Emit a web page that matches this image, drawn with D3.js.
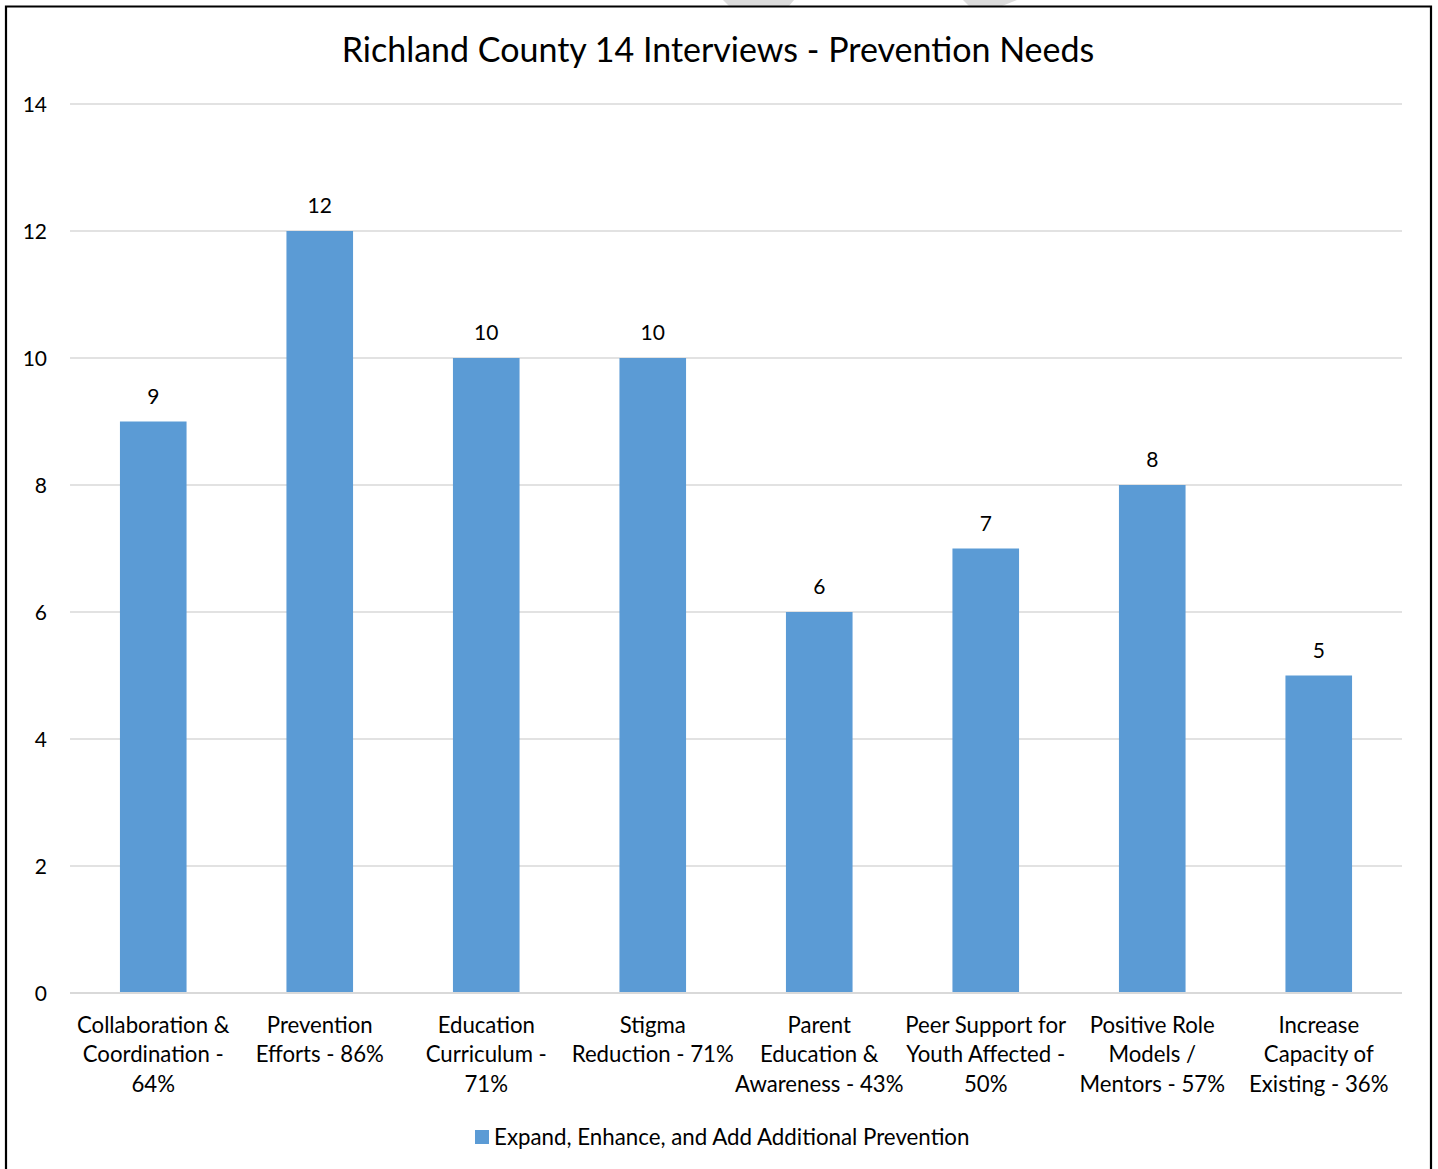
<!DOCTYPE html>
<html>
<head>
<meta charset="utf-8">
<script src="https://cdn.jsdelivr.net/npm/d3@7"></script>
<style>
  html, body { margin: 0; padding: 0; background: #fff; }
  svg { display: block; }
  text { font-family: Lato, "Open Sans", sans-serif; fill: #000; }
</style>
</head>
<body>
<svg id="chart" width="1438" height="1169"></svg>
<script>
const title = "Richland County 14 Interviews - Prevention Needs";
const categories = [
  ["Collaboration &", "Coordination -", "64%"],
  ["Prevention", "Efforts - 86%"],
  ["Education", "Curriculum -", "71%"],
  ["Stigma", "Reduction - 71%"],
  ["Parent", "Education &", "Awareness - 43%"],
  ["Peer Support for", "Youth Affected -", "50%"],
  ["Positive Role", "Models /", "Mentors - 57%"],
  ["Increase", "Capacity of", "Existing - 36%"]
];
const values = [9, 12, 10, 10, 6, 7, 8, 5];
const yTicks = [0, 2, 4, 6, 8, 10, 12, 14];
const seriesName = "Expand, Enhance, and Add Additional Prevention";
const barColor = "#5B9BD5";

(function () {
const svg = d3.select("#chart");

// watermark fragments above the frame
svg.append("polygon").attr("points", "723,0 794,0 789,6 729,6").attr("fill", "#dcdcdc");
svg.append("polygon").attr("points", "963,0 1017,0 1002,6 969,6").attr("fill", "#dcdcdc");

// frame
svg.append("path")
  .attr("d", "M6,1169 V6.5 H1431 V1169")
  .attr("fill", "none").attr("stroke", "#000").attr("stroke-width", 2.2);

const pLeft = 70, pRight = 1402, pTop = 104, pBottom = 993;
const x = d3.scaleBand().domain(d3.range(values.length)).range([pLeft, pRight]).paddingInner(0.6).paddingOuter(0.3);
const y = d3.scaleLinear().domain([0, 14]).range([pBottom, pTop]);

// gridlines
svg.append("g").selectAll("line").data(yTicks).join("line")
  .attr("x1", pLeft).attr("x2", pRight)
  .attr("y1", d => y(d)).attr("y2", d => y(d))
  .attr("stroke", "#d9d9d9").attr("stroke-width", 1.3);

// y axis labels
const yAxis = d3.axisLeft(y).tickValues(yTicks).tickSize(0).tickPadding(0);
const ga = svg.append("g").attr("transform", `translate(47,0)`).call(yAxis);
ga.select(".domain").remove();
ga.selectAll("text").attr("font-size", 21).attr("font-family", "Lato, sans-serif").attr("fill", "#000").attr("dy", "0.35em");

// bars
svg.append("g").selectAll("rect").data(values).join("rect")
  .attr("x", (d, i) => x(i)).attr("width", x.bandwidth())
  .attr("y", d => y(d)).attr("height", d => y(0) - y(d))
  .attr("fill", barColor);

// baseline
svg.append("line").attr("x1", pLeft).attr("x2", pRight).attr("y1", y(0)).attr("y2", y(0))
  .attr("stroke", "#d9d9d9").attr("stroke-width", 2);

// data labels
svg.append("g").selectAll("text").data(values).join("text")
  .attr("x", (d, i) => x(i) + x.bandwidth() / 2)
  .attr("y", d => y(d) - 18)
  .attr("text-anchor", "middle").attr("font-size", 21)
  .text(d => d);

// category labels
const cg = svg.append("g").selectAll("text").data(categories).join("text")
  .attr("x", (d, i) => x(i) + x.bandwidth() / 2)
  .attr("y", 1033)
  .attr("text-anchor", "middle").attr("font-size", 22.2);
cg.selectAll("tspan").data(d => d).join("tspan")
  .attr("x", function() { return d3.select(this.parentNode).attr("x"); })
  .attr("dy", (d, i) => i === 0 ? 0 : 29.3)
  .text(d => d);

// title
svg.append("text").attr("x", 718).attr("y", 62).attr("text-anchor", "middle")
  .attr("font-size", 34).text(title);

// legend
svg.append("rect").attr("x", 475).attr("y", 1130).attr("width", 14).attr("height", 14).attr("fill", barColor);
svg.append("text").attr("x", 494).attr("y", 1145).attr("font-size", 22.3).text(seriesName);
})();
</script>
</body>
</html>
